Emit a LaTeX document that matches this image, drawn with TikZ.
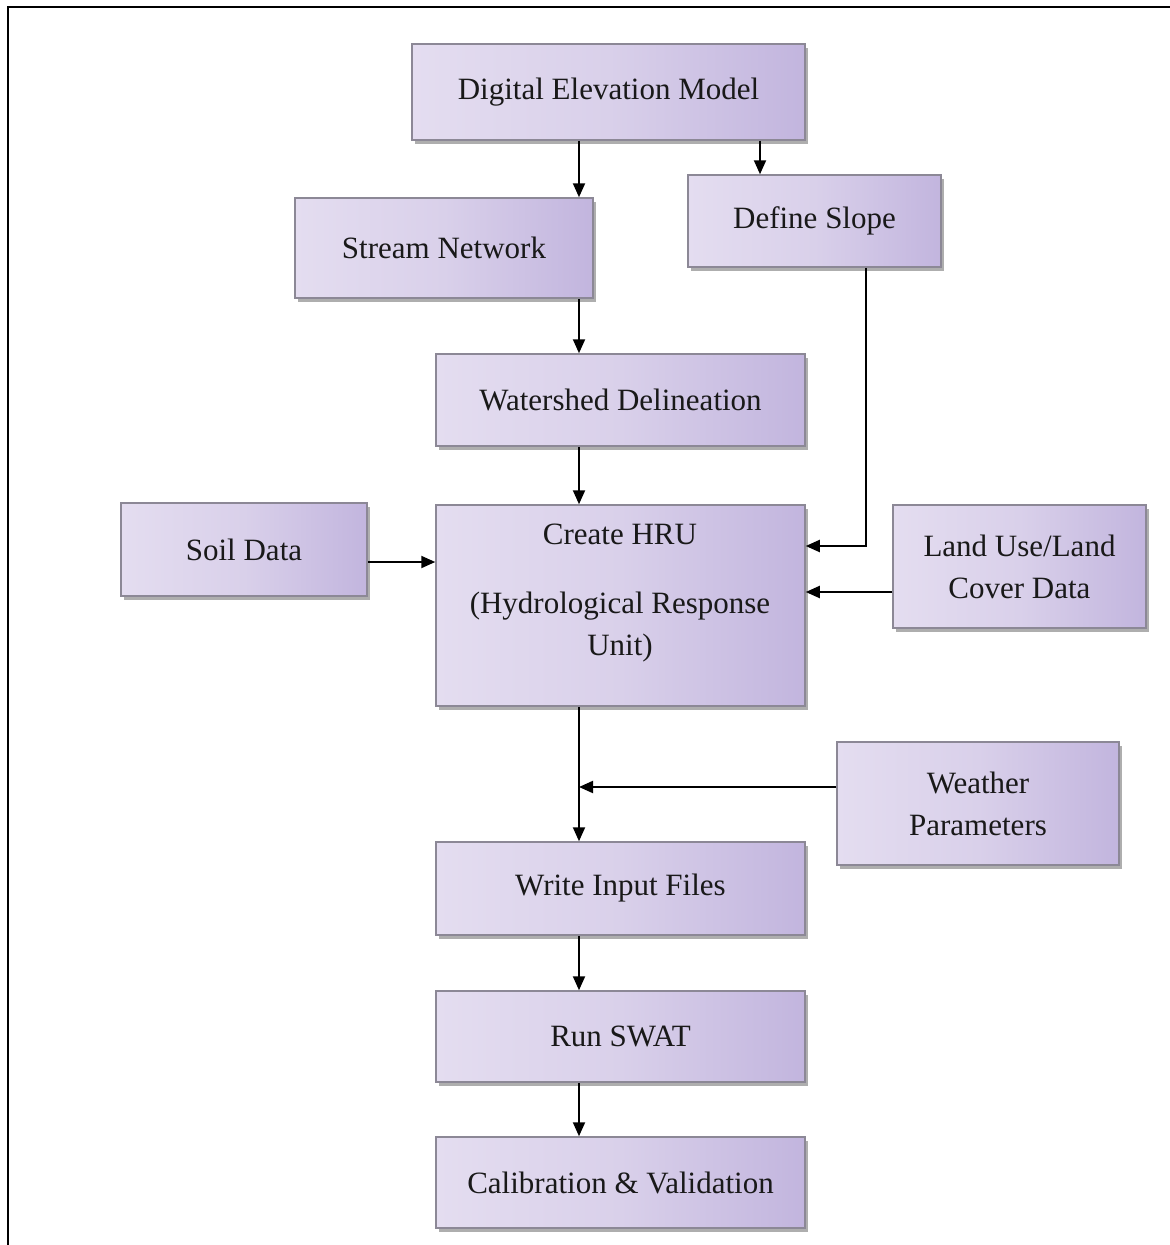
\documentclass[tikz,border=0pt]{standalone}
\usepackage{fontspec}
\setmainfont{Liberation Serif}
\usetikzlibrary{arrows.meta,shadows,positioning}

\definecolor{lavlight}{RGB}{228,221,240}
\definecolor{lavmid}{RGB}{217,208,234}
\definecolor{lavdark}{RGB}{194,181,222}
\definecolor{boxedge}{RGB}{140,136,150}

\tikzset{
  procbox/.style={
    draw=boxedge, line width=1.5pt,
    left color=lavlight, right color=lavdark, middle color=lavmid,
    drop shadow={shadow xshift=3pt, shadow yshift=-4pt, fill=black!45, opacity=0.7},
    align=center, inner sep=0pt,
    font=\fontsize{31}{42}\selectfont, text=black!90
  },
  flow/.style={line width=2pt, -{Triangle[length=14pt,width=12pt]}},
  link/.style={line width=2pt}
}

\begin{document}
\begin{tikzpicture}[x=1pt,y=-1pt]
  \useasboundingbox (0,0) rectangle (1170,1245);
  % outer frame
  \draw[line width=2.5pt] (8,1245) -- (8,7) -- (1170,7);

  % process boxes (centre, width, height)
  \node[procbox, minimum width=393pt, minimum height=96pt] (dem)   at (608.5,92)  {Digital Elevation Model};
  \node[procbox, minimum width=298pt, minimum height=100pt] (stream) at (444,248)   {Stream Network};
  \node[procbox, minimum width=253pt, minimum height=92pt]  (slope)  at (814.5,221) {Define Slope};
  \node[procbox, minimum width=369pt, minimum height=92pt]  (shed)   at (620.5,400) {Watershed Delineation};
  \node[procbox, minimum width=246pt, minimum height=93pt]  (soil)   at (244,549.5) {Soil Data};
  \node[procbox, minimum width=369pt, minimum height=201pt] (hru)    at (620.5,605.5) {};
  \node[font=\fontsize{31}{42}\selectfont, text=black!90, align=center] (hrutext) at (620,593)
       {Create HRU\\[27pt](Hydrological Response\\Unit)};
  \node[procbox, minimum width=253pt, minimum height=123pt] (land)  at (1019.5,566.5) {Land Use/Land\\Cover Data};
  \node[procbox, minimum width=282pt, minimum height=123pt] (wx)    at (978,803.5) {Weather\\Parameters};
  \node[procbox, minimum width=369pt, minimum height=93pt]  (write) at (620.5,888.5) {Write Input Files};
  \node[procbox, minimum width=369pt, minimum height=91pt]  (run)   at (620.5,1036.5) {Run SWAT};
  \node[procbox, minimum width=369pt, minimum height=91pt]  (calib) at (620.5,1182.5) {Calibration \& Validation};

  % main vertical chain
  \draw[flow] (dem.south -| 579,0) -- (stream.north -| 579,0);
  \draw[flow] (dem.south -| 760,0) -- (slope.north -| 760,0);
  \draw[flow] (stream.south -| 579,0) -- (shed.north -| 579,0);
  \draw[flow] (shed.south -| 579,0) -- (hru.north -| 579,0);
  \draw[flow] (hru.south -| 579,0) -- (write.north -| 579,0);
  \draw[flow] (write.south -| 579,0) -- (run.north -| 579,0);
  \draw[flow] (run.south -| 579,0) -- (calib.north -| 579,0);

  % side inputs
  \coordinate (slopeturn) at (866,546);
  \draw[flow] (slope.south -| slopeturn) -- (slopeturn) -- (slopeturn -| hru.east);
  \draw[flow] (soil.east |- 0,562) -- (hru.west |- 0,562);
  \draw[flow] (land.west |- 0,592) -- (hru.east |- 0,592);
  \coordinate (wxjoin) at (579,787);
  \draw[flow] (wx.west |- wxjoin) -- (wxjoin);
\end{tikzpicture}
\end{document}
